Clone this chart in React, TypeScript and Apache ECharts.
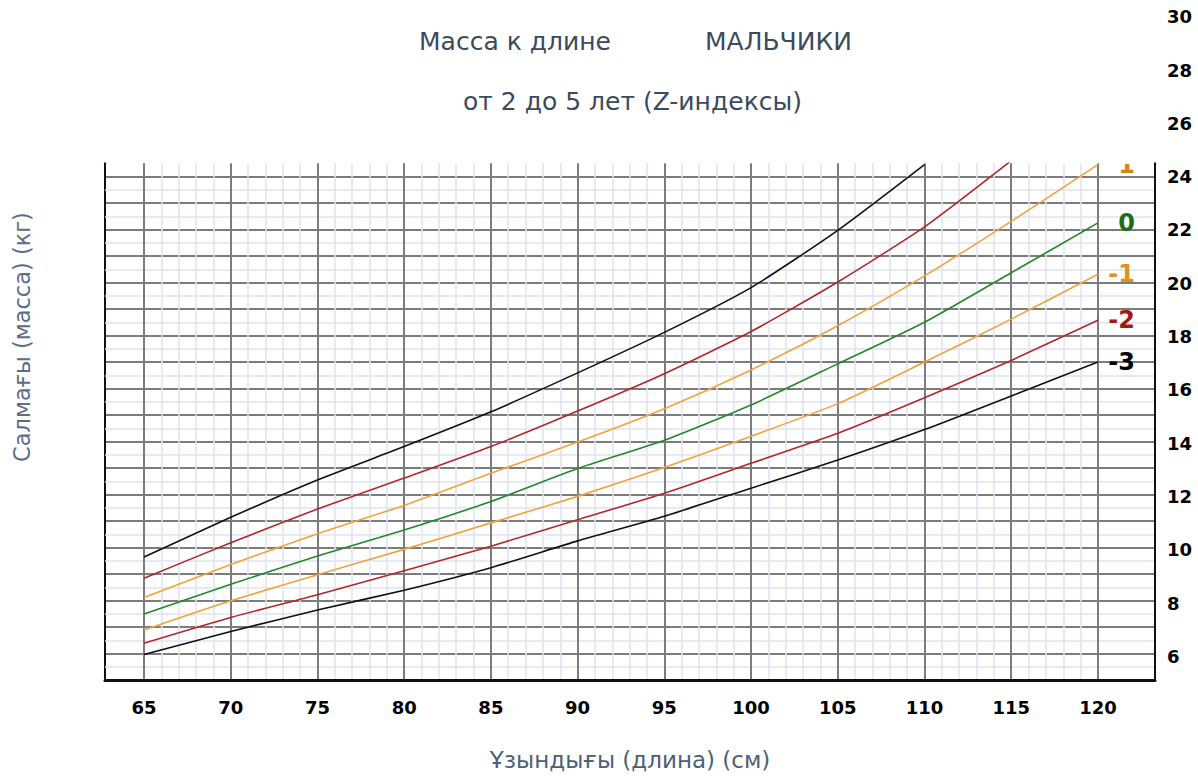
import React, { useEffect, useRef } from "react";
import * as echarts from "echarts";

// Length (cm) at which curve values were read
const lengths = [65, 70, 75, 80, 85, 90, 95, 100, 105, 110, 115, 120];

// Weight (kg) per Z-score curve
const zPlus3 = [9.64, 11.14, 12.55, 13.81, 15.12, 16.59, 18.12, 19.81, 21.97, 24.45];
const zPlus2 = [8.84, 10.18, 11.45, 12.62, 13.81, 15.15, 16.56, 18.15, 20.02, 22.1, 24.6];
const zPlus1 = [8.11, 9.36, 10.52, 11.59, 12.8, 13.98, 15.24, 16.7, 18.37, 20.25, 22.31, 24.45];
const zZero = [7.49, 8.61, 9.68, 10.66, 11.74, 12.98, 14.05, 15.38, 16.93, 18.5, 20.37, 22.25];
const zMinus1 = [6.89, 7.99, 8.97, 9.93, 10.93, 11.93, 13.02, 14.2, 15.43, 17.0, 18.62, 20.31];
const zMinus2 = [6.39, 7.36, 8.22, 9.12, 10.05, 11.05, 12.05, 13.18, 14.31, 15.65, 17.06, 18.58];
const zMinus3 = [5.96, 6.83, 7.64, 8.39, 9.24, 10.25, 11.18, 12.24, 13.3, 14.45, 15.72, 17.0];

// Tick labels
const lengthTicks = [65, 70, 75, 80, 85, 90, 95, 100, 105, 110, 115, 120];
const weightTicks = [6, 8, 10, 12, 14, 16, 18, 20, 22, 24, 26, 28, 30];

// minor grid positions
const minorLengths: number[] = [];
for (let v = 65; v <= 120; v++) if (v % 5 !== 0) minorLengths.push(v);
const minorWeights: number[] = [];
for (let v = 5.5; v < 24.2; v += 1) minorWeights.push(v);

const FONT = "DejaVu Sans";
const GRID_MAJOR = "#7c7c7c";
const GRID_MINOR = "#dfe3f0";

const toPairs = (vals: number[]) => vals.map((v, i) => [lengths[i], v]);

const gridLineSeries = (z: number, color: string, width: number, data: any[]) => ({
  type: "line",
  data: [],
  z,
  silent: true,
  xAxisIndex: 0,
  yAxisIndex: 0,
  markLine: {
    silent: true,
    symbol: ["none", "none"],
    label: { show: false },
    emphasis: { disabled: true },
    lineStyle: { color, width, type: "solid" },
    data,
  },
});

export default function App() {
  const ref = useRef<HTMLDivElement>(null);

  useEffect(() => {
    if (!ref.current) return;
    const chart = echarts.init(ref.current, undefined, { renderer: "svg" });

    const curve = (name: string, vals: number[], color: string, label?: { text: string; color: string }) => ({
      name,
      type: "line",
      xAxisIndex: 0,
      yAxisIndex: 0,
      data: toPairs(vals),
      showSymbol: false,
      symbol: "none",
      smooth: 0.2,
      z: 5,
      lineStyle: { color, width: 1.6 },
      silent: true,
      endLabel: label
        ? {
            show: true,
            formatter: label.text,
            color: label.color,
            fontSize: 24,
            fontWeight: "bold",
            fontFamily: FONT,
            align: "right",
            verticalAlign: "middle",
            distance: 37,
          }
        : { show: false },
    });

    const titleStyle = { fontFamily: FONT, fontSize: 25, fontWeight: "normal", color: "#3b4a5c" };

    const option: any = {
      animation: false,
      backgroundColor: "#ffffff",
      title: [
        { text: "Масса к длине", left: 414, top: 24, textStyle: titleStyle },
        { text: "МАЛЬЧИКИ", left: 700, top: 24, textStyle: titleStyle },
        { text: "от 2 до 5 лет (Z-индексы)", left: 458, top: 84, textStyle: titleStyle },
      ],
      grid: [
        { left: 105, right: 43, top: 163.3, bottom: 93 },
        { left: 105, right: 43, top: 16.75, bottom: 66.35 },
      ],
      xAxis: [
        {
          type: "value",
          gridIndex: 0,
          min: 62.75,
          max: 123.29,
          z: 6,
          axisLine: { show: true, onZero: false, lineStyle: { color: "#111111", width: 3 } },
          axisTick: { show: false },
          splitLine: { show: false },
          axisLabel: {
            customValues: lengthTicks,
            color: "#000000",
            fontFamily: FONT,
            fontWeight: "bold",
            fontSize: 18,
            margin: 18,
          },
          name: "Ұзындығы (длина) (см)",
          nameLocation: "middle",
          nameGap: 68,
          nameTextStyle: { fontFamily: FONT, fontSize: 23, color: "#4d6079" },
        },
        { type: "value", gridIndex: 1, min: 0, max: 1, show: false },
      ],
      yAxis: [
        {
          type: "value",
          gridIndex: 0,
          min: 5,
          max: 24.5,
          interval: 1,
          z: 1,
          axisLine: { show: true, onZero: false, lineStyle: { color: "#111111", width: 2 } },
          axisTick: { show: false },
          axisLabel: { show: false },
          splitLine: {
            show: true,
            showMinLine: false,
            showMaxLine: false,
            lineStyle: { color: GRID_MAJOR, width: 2 },
          },
          minorSplitLine: { show: false },
        },
        {
          type: "value",
          gridIndex: 0,
          position: "right",
          min: 5,
          max: 24.5,
          z: 6,
          axisLine: { show: true, onZero: false, lineStyle: { color: "#111111", width: 2 } },
          axisTick: { show: false },
          axisLabel: { show: false },
          splitLine: { show: false },
        },
        {
          type: "value",
          gridIndex: 1,
          position: "right",
          min: 4,
          max: 30,
          interval: 2,
          axisLine: { show: false },
          axisTick: { show: false },
          splitLine: { show: false },
          axisLabel: {
            customValues: weightTicks,
            color: "#000000",
            fontFamily: FONT,
            fontWeight: "bold",
            fontSize: 18,
            margin: 12,
          },
        },
      ],
      graphic: [
        {
          type: "text",
          x: 22,
          y: 337,
          rotation: Math.PI / 2,
          style: {
            text: "Салмағы (масса) (кг)",
            fontFamily: FONT,
            fontSize: 22.5,
            fill: "#5b6e86",
            align: "center",
            verticalAlign: "middle",
          },
        },
        {
          type: "rect",
          z: 100,
          shape: { x: 1102, y: 110, width: 50, height: 54 },
          style: { fill: "#ffffff" },
        },
      ],
      series: [
        gridLineSeries(0, GRID_MINOR, 1.5, [
          ...minorLengths.map((v) => ({ xAxis: v })),
          ...minorWeights.map((v) => ({ yAxis: v })),
        ]),
        gridLineSeries(2, GRID_MAJOR, 2, lengthTicks.map((v) => ({ xAxis: v }))),
        curve("3", zPlus3, "#111111"),
        curve("2", zPlus2, "#b3262a"),
        curve("1", zPlus1, "#f2a23c", { text: "1", color: "#d98214" }),
        curve("0", zZero, "#22882a", { text: "0", color: "#1e6b1e" }),
        curve("-1", zMinus1, "#f2a23c", { text: "-1", color: "#e0911e" }),
        curve("-2", zMinus2, "#b3262a", { text: "-2", color: "#a51616" }),
        curve("-3", zMinus3, "#111111", { text: "-3", color: "#000000" }),
      ],
    };

    chart.setOption(option);
    return () => chart.dispose();
  }, []);

  return (
    <div
      ref={ref}
      style={{ position: "fixed", left: 0, top: 0, width: 1198, height: 776, background: "#fff" }}
    />
  );
}
